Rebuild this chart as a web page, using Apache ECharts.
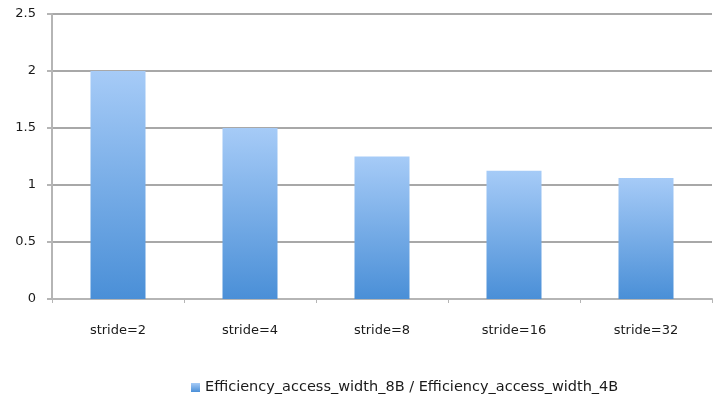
<!DOCTYPE html>
<html>
<head>
<meta charset="utf-8">
<script src="https://cdn.jsdelivr.net/npm/echarts@6/dist/echarts.min.js"></script>
<style>
  html, body { margin: 0; padding: 0; background: #fff; }
  #chart { width: 720px; height: 404px; }
</style>
</head>
<body>
<div id="chart"></div>
<script>
var categories = ['stride=2', 'stride=4', 'stride=8', 'stride=16', 'stride=32'];
var ratioValues = [2, 1.5, 1.25, 1.125, 1.0625];
var seriesName = 'Efficiency_access_width_8B / Efficiency_access_width_4B';

var myChart = echarts.init(document.getElementById('chart'));

var option = {
    animation: false,
    grid: {
        left: 52,
        right: 8,
        top: 14,
        bottom: 105,
        containLabel: false
    },
    legend: {
        bottom: 4,
        left: 186,
        itemWidth: 9,
        itemHeight: 9,
        itemGap: 5,
        icon: 'rect',
        textStyle: {
            fontFamily: 'DejaVu Sans',
            fontSize: 14.5,
            color: '#1a1a1a'
        },
        data: [seriesName]
    },
    xAxis: {
        type: 'category',
        data: categories,
        axisLine: { lineStyle: { color: '#b5b5b5', width: 2 } },
        axisTick: { show: true, length: 4, lineStyle: { color: '#b5b5b5' } },
        axisLabel: {
            margin: 25,
            fontFamily: 'DejaVu Sans',
            fontSize: 13,
            color: '#1a1a1a'
        }
    },
    yAxis: {
        type: 'value',
        min: 0,
        max: 2.5,
        interval: 0.5,
        axisLine: { show: true, lineStyle: { color: '#b5b5b5', width: 2 } },
        axisTick: { show: true, length: 5, lineStyle: { color: '#b5b5b5', width: 2 } },
        splitLine: { lineStyle: { color: '#a8a8a8', width: 2 } },
        axisLabel: {
            margin: 16,
            fontFamily: 'DejaVu Sans',
            fontSize: 13,
            color: '#1a1a1a'
        }
    },
    series: [{
        name: seriesName,
        type: 'bar',
        data: ratioValues,
        barWidth: 55,
        itemStyle: {
            color: new echarts.graphic.LinearGradient(0, 0, 0, 1, [
                { offset: 0, color: '#a6cbf7' },
                { offset: 1, color: '#4a8fd7' }
            ])
        }
    }]
};
myChart.setOption(option);
</script>
</body>
</html>
